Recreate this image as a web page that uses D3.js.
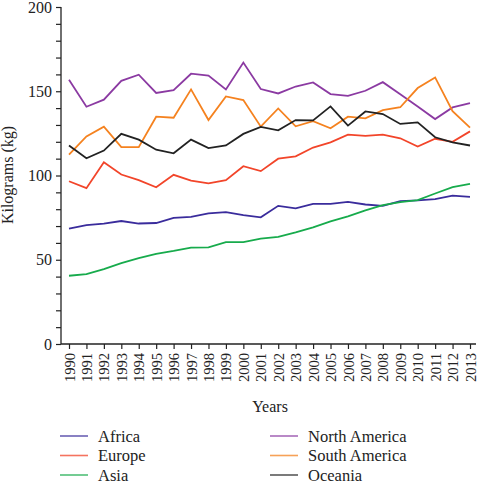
<!DOCTYPE html>
<html>
<head>
<meta charset="utf-8">
<script src="https://cdn.jsdelivr.net/npm/d3@7"></script>
<style>
  html, body { margin: 0; padding: 0; background: #fff; }
  svg { display: block; font-family: "Liberation Serif", "Times New Roman", serif; }
</style>
</head>
<body>
<svg id="chart" width="480" height="487"></svg>
<script>
const years = [1990,1991,1992,1993,1994,1995,1996,1997,1998,1999,2000,2001,2002,2003,2004,2005,2006,2007,2008,2009,2010,2011,2012,2013];
const africa = [68.5,70.5,71.5,73,71.5,71.8,74.8,75.5,77.5,78.3,76.5,75.2,82,80.5,83.2,83.2,84.3,82.8,82,84.8,85.2,86,88,87.3];
const europe = [96.6,92.5,107.9,100.6,97.3,93,100.4,97,95.3,97.2,105.5,102.6,110,111.4,116.6,119.7,124.3,123.5,124.3,122.1,117.2,121.8,120,126.2];
const asia = [40.5,41.5,44.5,48,51,53.5,55.2,57.2,57.4,60.5,60.5,62.6,63.6,66.2,69.2,72.8,75.7,79.3,82.4,84.2,85.4,89.3,93.1,95];
const northAmerica = [156.8,140.8,145,156.2,159.8,149,150.7,160.4,159.3,151.1,167,151.3,148.7,152.8,155.2,148.3,147.3,150.3,155.4,148.2,141,133.5,140.4,143];
const southAmerica = [112.4,123.2,129,116.8,116.8,134.9,134.3,151.1,132.9,146.9,144.8,129,139.8,129.2,132.2,128,134.9,133.9,138.8,140.5,151.9,158.2,138.2,128.4];
const oceania = [117.8,110.2,114.8,124.7,121.3,115.3,113.2,121.3,116.3,117.8,124.7,128.8,126.8,132.9,132.7,141,129.6,138,136.5,130.6,131.5,122.7,119.7,117.8];
const seriesNames = ["Africa","Europe","Asia","North America","South America","Oceania"];
const seriesColors = ["#3a2c9c","#f2452a","#17ab4c","#8b3aa2","#f5821f","#222222"];
const yTicks = [0,50,100,150,200];

const seriesData = [africa, europe, asia, northAmerica, southAmerica, oceania];

const svg = d3.select("#chart");
const x = d3.scalePoint().domain(years).range([69, 470]);
const y = d3.scaleLinear().domain([0, 200]).range([344, 7]);
const axisX = 61;

// Y axis
const gy = svg.append("g").attr("transform", `translate(${axisX},0)`);
gy.call(d3.axisLeft(y).tickValues(d3.range(0, 201, 10)).tickSize(5).tickFormat(d => yTicks.includes(d) ? d : ""));
gy.select(".domain").attr("d", `M0,${y(200)}V${y(0)}`).attr("stroke", "#222").attr("stroke-width", 1.3);
gy.selectAll(".tick line").attr("stroke", "#222").attr("stroke-width", 1.2);
gy.selectAll(".tick text").attr("font-size", 16).attr("fill", "#222").attr("x", -9)
  .attr("font-family", "Liberation Serif, serif");

// X axis
const gx = svg.append("g").attr("transform", `translate(0,${y(0)})`);
gx.call(d3.axisBottom(x).tickSize(5));
gx.select(".domain").attr("d", `M${axisX},0H476`).attr("stroke", "#222").attr("stroke-width", 1.3);
gx.selectAll(".tick line").attr("stroke", "#222").attr("stroke-width", 1.2);
gx.selectAll(".tick text")
  .attr("font-size", 14.5).attr("fill", "#222")
  .attr("font-family", "Liberation Serif, serif")
  .attr("transform", "rotate(-90)")
  .attr("text-anchor", "end")
  .attr("x", -9).attr("y", 0).attr("dy", "0.35em");

// Axis titles
svg.append("text").attr("x", 270).attr("y", 412).attr("text-anchor", "middle")
  .attr("font-size", 16).attr("fill", "#222").text("Years");
svg.append("text").attr("transform", `translate(13,175) rotate(-90)`).attr("text-anchor", "middle")
  .attr("font-size", 16).attr("fill", "#222").text("Kilograms (kg)");

// Lines
const line = d3.line().x((d, i) => x(years[i])).y(d => y(d));
seriesData.forEach((s, k) => {
  svg.append("path").datum(s).attr("d", line)
    .attr("fill", "none").attr("stroke", seriesColors[k]).attr("stroke-width", 1.8)
    .attr("stroke-linejoin", "miter");
});

// Legend
const legend = svg.append("g");
seriesNames.forEach((name, k) => {
  const col = Math.floor(k / 3), row = k % 3;
  const lx = col === 0 ? 60 : 270;
  const ly = 436 + row * 19.5;
  legend.append("line").attr("x1", lx).attr("x2", lx + 28).attr("y1", ly).attr("y2", ly)
    .attr("stroke", seriesColors[k]).attr("stroke-width", 1.6).attr("opacity", 0.75);
  legend.append("text").attr("x", lx + 38).attr("y", ly).attr("dy", "0.35em")
    .attr("font-size", 16.5).attr("fill", "#222").text(name);
});
</script>
</body>
</html>
